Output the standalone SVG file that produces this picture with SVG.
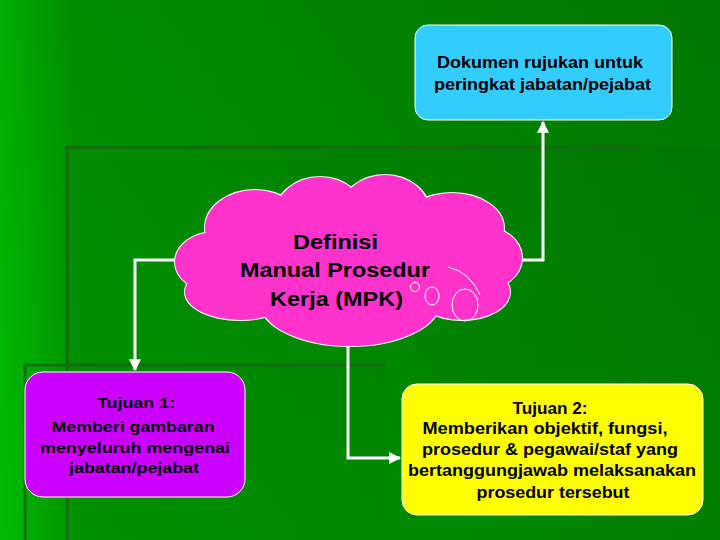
<svg xmlns="http://www.w3.org/2000/svg" width="720" height="540" viewBox="0 0 720 540">
<defs>
<linearGradient id="bg" x1="0" y1="0" x2="1" y2="0">
<stop offset="0" stop-color="#00c800"/>
<stop offset="0.1" stop-color="#009a00"/>
<stop offset="1" stop-color="#007800"/>
</linearGradient>
<linearGradient id="bgv" x1="0" y1="0" x2="0" y2="1">
<stop offset="0" stop-color="#007000" stop-opacity="0.3"/>
<stop offset="1" stop-color="#00a000" stop-opacity="0.3"/>
</linearGradient>
<marker id="ah" viewBox="0 0 10 10" refX="9" refY="5" markerWidth="4" markerHeight="4" orient="auto">
<path d="M0,0 L10,5 L0,10 z" fill="#ffffff"/>
</marker>
</defs>
<style>
.conn{fill:none;stroke:#ffffff;stroke-width:3;}
.t{font-family:"Liberation Sans",Arial,sans-serif;font-weight:bold;text-anchor:middle;fill:#000000;}
.box{stroke:#ffffff;stroke-width:1;}
</style>
<rect width="720" height="540" fill="url(#bg)"/>
<rect width="720" height="540" fill="url(#bgv)"/>
<g id="decor">
<rect x="67" y="147" width="653" height="393" fill="#006000" opacity="0.12"/>
<rect x="25" y="365" width="360" height="175" fill="#006000" opacity="0.06"/>
<g fill="none" stroke="#1c601c" stroke-width="3" opacity="0.75">
<path d="M640,147 L67,147 L67,540"/>
<path d="M385,365 L25,365 L25,540"/>
</g>
</g>
<g id="connectors">
<path class="conn" d="M178,260 L135,260 L135,370" marker-end="url(#ah)"/>
<path class="conn" d="M518,260 L543,260 L543,122" marker-end="url(#ah)"/>
<path class="conn" d="M348,340 L348,458 L400,458" marker-end="url(#ah)"/>
</g>
<g id="doc">
<rect class="box" x="415" y="25" width="257" height="95" rx="13" fill="#33ccff"/>
<text class="t" font-size="16.5" x="540" y="68" textLength="206" lengthAdjust="spacingAndGlyphs">Dokumen rujukan untuk</text>
<text class="t" font-size="16.5" x="542.5" y="90" textLength="217" lengthAdjust="spacingAndGlyphs">peringkat jabatan/pejabat</text>
</g>
<g id="cloud">
<g fill="#ff33cc" stroke="#ffffff" stroke-width="2">
<ellipse cx="215" cy="262" rx="40" ry="30"/>
<ellipse cx="255" cy="228" rx="50" ry="38"/>
<ellipse cx="320" cy="215" rx="45" ry="38"/>
<ellipse cx="385" cy="213" rx="45" ry="38"/>
<ellipse cx="452" cy="228" rx="52" ry="35"/>
<ellipse cx="482" cy="258" rx="40" ry="32"/>
<ellipse cx="462" cy="292" rx="48" ry="28"/>
<ellipse cx="350" cy="302" rx="90" ry="44"/>
<ellipse cx="240" cy="292" rx="55" ry="28"/>
</g>
<g fill="#ff33cc">
<ellipse cx="215" cy="262" rx="40" ry="30"/>
<ellipse cx="255" cy="228" rx="50" ry="38"/>
<ellipse cx="320" cy="215" rx="45" ry="38"/>
<ellipse cx="385" cy="213" rx="45" ry="38"/>
<ellipse cx="452" cy="228" rx="52" ry="35"/>
<ellipse cx="482" cy="258" rx="40" ry="32"/>
<ellipse cx="462" cy="292" rx="48" ry="28"/>
<ellipse cx="350" cy="302" rx="90" ry="44"/>
<ellipse cx="240" cy="292" rx="55" ry="28"/>
<ellipse cx="350" cy="262" rx="140" ry="55"/>
</g>
<g fill="none" stroke="#ffffff" stroke-width="1">
<circle cx="415" cy="287" r="4.5"/>
<ellipse cx="432" cy="296" rx="7" ry="9"/>
<ellipse cx="465" cy="305" rx="13" ry="16"/>
<path d="M448,267 Q470,272 480,295"/>
</g>
<text class="t" font-size="21" x="335.5" y="249" textLength="85" lengthAdjust="spacingAndGlyphs">Definisi</text>
<text class="t" font-size="21" x="335" y="277" textLength="190" lengthAdjust="spacingAndGlyphs">Manual Prosedur</text>
<text class="t" font-size="21" x="336.5" y="306" textLength="133" lengthAdjust="spacingAndGlyphs">Kerja (MPK)</text>
</g>
<g id="tujuan1">
<rect class="box" x="25" y="372" width="220" height="125" rx="18" fill="#cc00ff"/>
<text class="t" font-size="15.5" x="136" y="408" textLength="78" lengthAdjust="spacingAndGlyphs">Tujuan 1:</text>
<text class="t" font-size="15.5" x="133" y="432" textLength="163" lengthAdjust="spacingAndGlyphs">Memberi gambaran</text>
<text class="t" font-size="15.5" x="135" y="453" textLength="190" lengthAdjust="spacingAndGlyphs">menyeluruh mengenai</text>
<text class="t" font-size="15.5" x="134" y="473" textLength="130" lengthAdjust="spacingAndGlyphs">jabatan/pejabat</text>
</g>
<g id="tujuan2">
<rect class="box" x="402" y="384" width="301" height="131" rx="15" fill="#ffff00"/>
<text class="t" font-size="16.5" x="550" y="414" textLength="75" lengthAdjust="spacingAndGlyphs">Tujuan 2:</text>
<text class="t" font-size="16.5" x="545" y="434" textLength="245" lengthAdjust="spacingAndGlyphs">Memberikan objektif, fungsi,</text>
<text class="t" font-size="16.5" x="550" y="455" textLength="256" lengthAdjust="spacingAndGlyphs">prosedur &amp; pegawai/staf yang</text>
<text class="t" font-size="16.5" x="552" y="476" textLength="288" lengthAdjust="spacingAndGlyphs">bertanggungjawab melaksanakan</text>
<text class="t" font-size="16.5" x="553" y="498" textLength="153" lengthAdjust="spacingAndGlyphs">prosedur tersebut</text>
</g>
</svg>
